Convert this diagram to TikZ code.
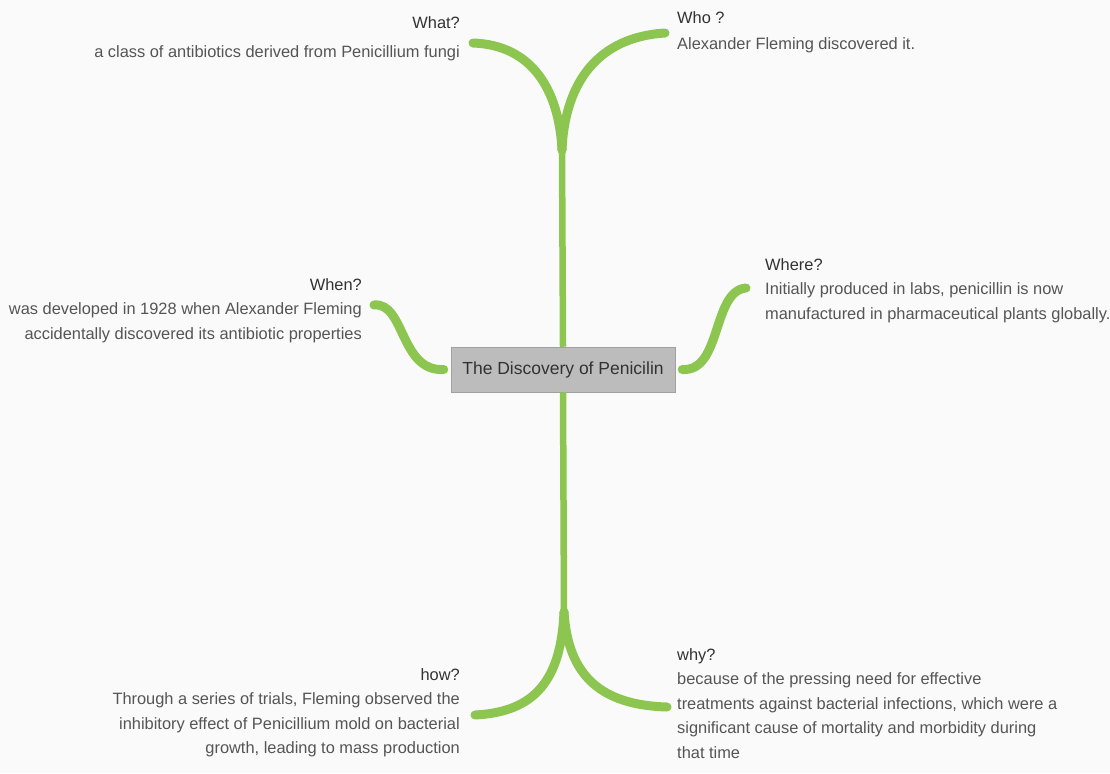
\documentclass[tikz,border=0pt]{standalone}
\usepackage{fontspec}
\setmainfont{Liberation Sans}
\usepackage{xcolor}
\definecolor{leaf}{RGB}{140,198,80}
\definecolor{ink}{RGB}{85,85,85}
\definecolor{inkdark}{RGB}{50,50,50}
\definecolor{hubgray}{RGB}{188,188,188}
\definecolor{paper}{RGB}{250,250,250}
\newcommand{\topichead}[1]{{\color{inkdark}#1}}

\begin{document}
\begin{tikzpicture}[x=1pt,y=-1pt,
  branch/.style={draw=leaf,line width=9pt,line cap=round},
  trunk/.style={draw=leaf,line width=6.5pt},
  topic/.style={inner sep=0pt,text=ink,font=\fontsize{16.4}{24.5}\selectfont},
  hub/.style={fill=hubgray,draw=hubgray!85!black,line width=0.5pt,
    minimum width=224pt,minimum height=45pt,inner sep=0pt,
    text=inkdark,font=\fontsize{17.5}{20}\selectfont}]

% page
\useasboundingbox (0,0) rectangle (1110,773);
\fill[paper] (0,0) rectangle (1110,773);

% hub
\node[hub] (hub) at (563,369.5) {The Discovery of Penicilin};

% split points and free ends
\coordinate (tsplit) at (562,150);
\coordinate (bsplit) at (564,612);
\coordinate (whatend) at (473,43);
\coordinate (whoend) at (665,33);
\coordinate (whenend) at (374,305);
\coordinate (whereend) at (746,288);
\coordinate (howend) at (475,715);
\coordinate (whyend) at (667,707);

% topics
\node[topic,anchor=north east,align=right] (what) at (460,16)
  {\topichead{What?}\\[5pt]a class of antibiotics derived from Penicillium fungi};
\node[topic,anchor=north west,align=left] (who) at (677,11)
  {\topichead{Who ?}\\[2pt]Alexander Fleming discovered it.};
\node[topic,anchor=north east,align=right] (when) at (362,278)
  {\topichead{When?}\\was developed in 1928 when Alexander Fleming\\
   accidentally discovered its antibiotic properties};
\node[topic,anchor=north west,align=left] (where) at (765,258)
  {\topichead{Where?}\\Initially produced in labs, penicillin is now\\
   manufactured in pharmaceutical plants globally.};
\node[topic,anchor=north east,align=right] (how) at (460,668)
  {\topichead{how?}\\Through a series of trials, Fleming observed the\\
   inhibitory effect of Penicillium mold on bacterial\\
   growth, leading to mass production};
\node[topic,anchor=north west,align=left] (why) at (677,648)
  {\topichead{why?}\\because of the pressing need for effective\\
   treatments against bacterial infections, which were a\\
   significant cause of mortality and morbidity during\\
   that time};

% upper branches
\draw[trunk] (hub.north) -- (tsplit);
\draw[branch] (tsplit) .. controls (559,90) and (532,45) .. (whatend);
\draw[branch] (tsplit) .. controls (565,80) and (600,37) .. (whoend);

% lower branches
\draw[trunk] (hub.south) -- (bsplit);
\draw[branch] (bsplit) .. controls (561,680) and (535,712) .. (howend);
\draw[branch] (bsplit) .. controls (568,675) and (600,705) .. (whyend);

% side branches
\draw[branch] ([xshift=-7pt]hub.west) .. controls (400,372) and (405,302) .. (whenend);
\draw[branch] ([xshift=7pt]hub.east) .. controls (722,372) and (712,291) .. (whereend);

\end{tikzpicture}
\end{document}
